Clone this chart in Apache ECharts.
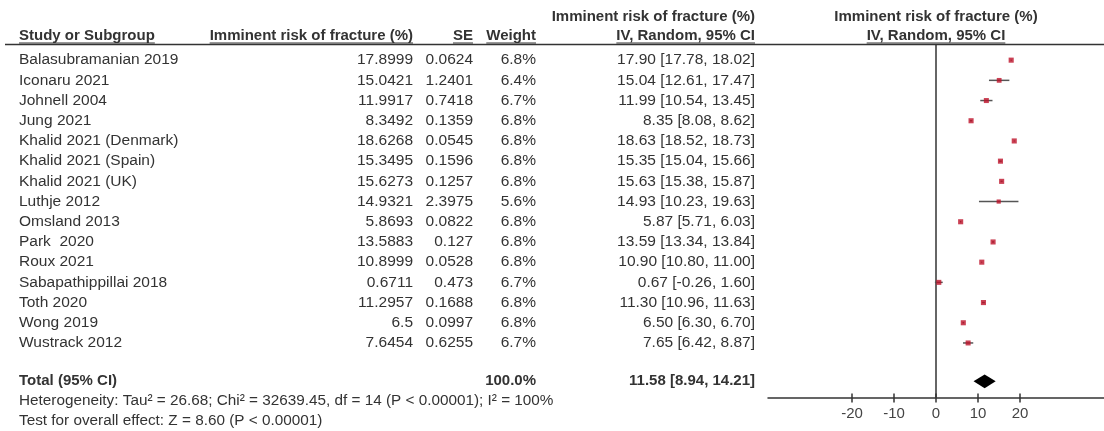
<!DOCTYPE html>
<html>
<head>
<meta charset="utf-8">
<script src="https://cdn.jsdelivr.net/npm/echarts@6/dist/echarts.min.js"></script>
<style>
  html, body { margin: 0; padding: 0; background: #fff; }
  #chart { width: 1104px; height: 431px; }
</style>
</head>
<body>
<div id="chart"></div>
<script>
// Study-level data for the forest plot
const studies = [
  "Balasubramanian 2019", "Iconaru 2021", "Johnell 2004", "Jung 2021",
  "Khalid 2021 (Denmark)", "Khalid 2021 (Spain)", "Khalid 2021 (UK)", "Luthje 2012",
  "Omsland 2013", "Park  2020", "Roux 2021", "Sabapathippillai 2018",
  "Toth 2020", "Wong 2019", "Wustrack 2012"
];
const riskValues = [17.8999, 15.0421, 11.9917, 8.3492, 18.6268, 15.3495, 15.6273, 14.9321,
                    5.8693, 13.5883, 10.8999, 0.6711, 11.2957, 6.5, 7.6454];
const seValues = [0.0624, 1.2401, 0.7418, 0.1359, 0.0545, 0.1596, 0.1257, 2.3975,
                  0.0822, 0.127, 0.0528, 0.473, 0.1688, 0.0997, 0.6255];
const weights = [6.8, 6.4, 6.7, 6.8, 6.8, 6.8, 6.8, 5.6, 6.8, 6.8, 6.8, 6.7, 6.8, 6.8, 6.7];
const estimates = [17.90, 15.04, 11.99, 8.35, 18.63, 15.35, 15.63, 14.93,
                   5.87, 13.59, 10.90, 0.67, 11.30, 6.50, 7.65];
const ciLow = [17.78, 12.61, 10.54, 8.08, 18.52, 15.04, 15.38, 10.23,
               5.71, 13.34, 10.80, -0.26, 10.96, 6.30, 6.42];
const ciHigh = [18.02, 17.47, 13.45, 8.62, 18.73, 15.66, 15.87, 19.63,
                6.03, 13.84, 11.00, 1.60, 11.63, 6.70, 8.87];

// Pooled (random effects) result
const totalEstimate = 11.58;
const totalLow = 8.94;
const totalHigh = 14.21;
const totalWeight = 100.0;

const tickValues = [-20, -10, 0, 10, 20];
const heterogeneityText = "Heterogeneity: Tau\u00B2 = 26.68; Chi\u00B2 = 32639.45, df = 14 (P < 0.00001); I\u00B2 = 100%";
const overallEffectText = "Test for overall effect: Z = 8.60 (P < 0.00001)";

// Layout constants
const FONT_FAMILY = '"Liberation Sans", Arial, sans-serif';
const FONT = '15.5px ' + FONT_FAMILY;
const BOLD = 'bold 15px ' + FONT_FAMILY;
const SMALL = '15.3px ' + FONT_FAMILY;
const TEXT = '#333';
const COL = { name: 19, risk: 413, se: 473, weight: 536, ci: 755, plot: 936 };
const Y_MIN = -0.75, Y_MAX = 16.7;
const TOTAL_ROW = 15.9;

const fmt2 = v => v.toFixed(2);
const ciLabel = (e, l, h) => fmt2(e) + ' [' + fmt2(l) + ', ' + fmt2(h) + ']';

const measureCtx = document.createElement('canvas').getContext('2d');
function textWidth(text, font) { measureCtx.font = font; return measureCtx.measureText(text).width; }

function txt(x, y, text, align, font) {
  return {
    type: 'text', x: x, y: y, silent: true,
    style: { text: text, x: 0, y: 0, textAlign: align, align: align,
             textVerticalAlign: 'middle', verticalAlign: 'middle', font: font, fill: TEXT }
  };
}
// Bold header label with a line drawn under it
function underlined(x, y, text, align) {
  const w = textWidth(text, BOLD);
  const x0 = align === 'left' ? x : align === 'right' ? x - w : x - w / 2;
  return [
    txt(x, y, text, align, BOLD),
    { type: 'line', silent: true, shape: { x1: x0, y1: y + 7, x2: x0 + w, y2: y + 7 },
      style: { stroke: TEXT, lineWidth: 1 } }
  ];
}

const headerY1 = 17, headerY2 = 36;
const graphics = [].concat(
  underlined(COL.name, headerY2, 'Study or Subgroup', 'left'),
  underlined(COL.risk, headerY2, 'Imminent risk of fracture (%)', 'right'),
  underlined(COL.se, headerY2, 'SE', 'right'),
  underlined(COL.weight, headerY2, 'Weight', 'right'),
  [txt(COL.ci, headerY1, 'Imminent risk of fracture (%)', 'right', BOLD)],
  underlined(COL.ci, headerY2, 'IV, Random, 95% CI', 'right'),
  [txt(COL.plot, headerY1, 'Imminent risk of fracture (%)', 'center', BOLD)],
  underlined(COL.plot, headerY2, 'IV, Random, 95% CI', 'center'),
  [{ type: 'line', silent: true, shape: { x1: 5, y1: 44.5, x2: 1104, y2: 44.5 },
     style: { stroke: '#333', lineWidth: 1.5 } }],
  [txt(COL.name, 401, heterogeneityText, 'left', SMALL),
   txt(COL.name, 421, overallEffectText, 'left', SMALL)]
);

const chart = echarts.init(document.getElementById('chart'), null, { renderer: 'canvas' });
chart.setOption({
  animation: false,
  backgroundColor: '#fff',
  grid: { left: 768, right: 0, top: 45, bottom: 33.5, containLabel: false },
  xAxis: {
    type: 'value', min: -40, max: 40, interval: 10,
    axisLine: { show: true, onZero: false, lineStyle: { color: '#333', width: 1.5 } },
    axisTick: { show: false },
    splitLine: { show: false },
    axisLabel: {
      customValues: tickValues,
      formatter: v => (Math.abs(v) <= 20 ? String(v) : ''),
      color: '#444', fontSize: 15, fontFamily: FONT_FAMILY, margin: 9
    }
  },
  yAxis: { type: 'value', inverse: true, min: Y_MIN, max: Y_MAX, show: false },
  graphic: graphics,
  series: [
    // Study table rows
    {
      type: 'custom', coordinateSystem: 'cartesian2d', clip: false, silent: true,
      data: studies.map((s, i) => [0, i]),
      renderItem: (params, api) => {
        const i = params.dataIndex;
        const y = api.coord([0, i])[1];
        return {
          type: 'group',
          children: [
            txt(COL.name, y, studies[i], 'left', FONT),
            txt(COL.risk, y, String(riskValues[i]), 'right', FONT),
            txt(COL.se, y, String(seValues[i]), 'right', FONT),
            txt(COL.weight, y, weights[i].toFixed(1) + '%', 'right', FONT),
            txt(COL.ci, y, ciLabel(estimates[i], ciLow[i], ciHigh[i]), 'right', FONT)
          ]
        };
      }
    },
    // Total row text and diamond
    {
      type: 'custom', coordinateSystem: 'cartesian2d', clip: false, silent: true,
      data: [[totalEstimate, TOTAL_ROW]],
      renderItem: (params, api) => {
        const y = api.coord([0, TOTAL_ROW])[1];
        const l = api.coord([totalLow, TOTAL_ROW]);
        const h = api.coord([totalHigh, TOTAL_ROW]);
        const top = api.coord([totalEstimate, TOTAL_ROW - 0.34]);
        const bot = api.coord([totalEstimate, TOTAL_ROW + 0.34]);
        return {
          type: 'group',
          children: [
            txt(COL.name, y, 'Total (95% CI)', 'left', BOLD),
            txt(COL.weight, y, totalWeight.toFixed(1) + '%', 'right', BOLD),
            txt(COL.ci, y, ciLabel(totalEstimate, totalLow, totalHigh), 'right', BOLD),
            { type: 'polygon', shape: { points: [l, top, h, bot] }, style: { fill: '#000' } }
          ]
        };
      }
    },
    // Line of no effect
    {
      type: 'line', silent: true, symbol: 'none',
      data: [[0, Y_MIN], [0, Y_MAX]],
      lineStyle: { color: '#333', width: 1.5 }, z: 1
    },
    // Tick marks crossing the axis line
    {
      type: 'custom', coordinateSystem: 'cartesian2d', clip: false, silent: true,
      data: tickValues.map(v => [v, Y_MAX]),
      renderItem: (params, api) => {
        const p = api.coord([api.value(0), Y_MAX]);
        return { type: 'line', shape: { x1: p[0], y1: p[1] - 4, x2: p[0], y2: p[1] + 5 },
                 style: { stroke: '#333', lineWidth: 1.5 } };
      }
    },
    // Confidence interval whiskers
    {
      type: 'custom', coordinateSystem: 'cartesian2d', silent: true, z: 2,
      data: estimates.map((e, i) => [ciLow[i], ciHigh[i], i]),
      renderItem: (params, api) => {
        const a = api.coord([api.value(0), api.value(2)]);
        const b = api.coord([api.value(1), api.value(2)]);
        return { type: 'line', shape: { x1: a[0], y1: a[1], x2: b[0], y2: b[1] },
                 style: { stroke: '#555', lineWidth: 1.5 } };
      }
    },
    // Point estimates, sized by weight
    {
      type: 'scatter', silent: true, z: 3,
      data: estimates.map((e, i) => [e, i, weights[i]]),
      symbol: 'rect',
      symbolSize: v => v[2] * 0.75,
      itemStyle: { color: '#bd1229' }
    }
  ]
});
</script>
</body>
</html>
